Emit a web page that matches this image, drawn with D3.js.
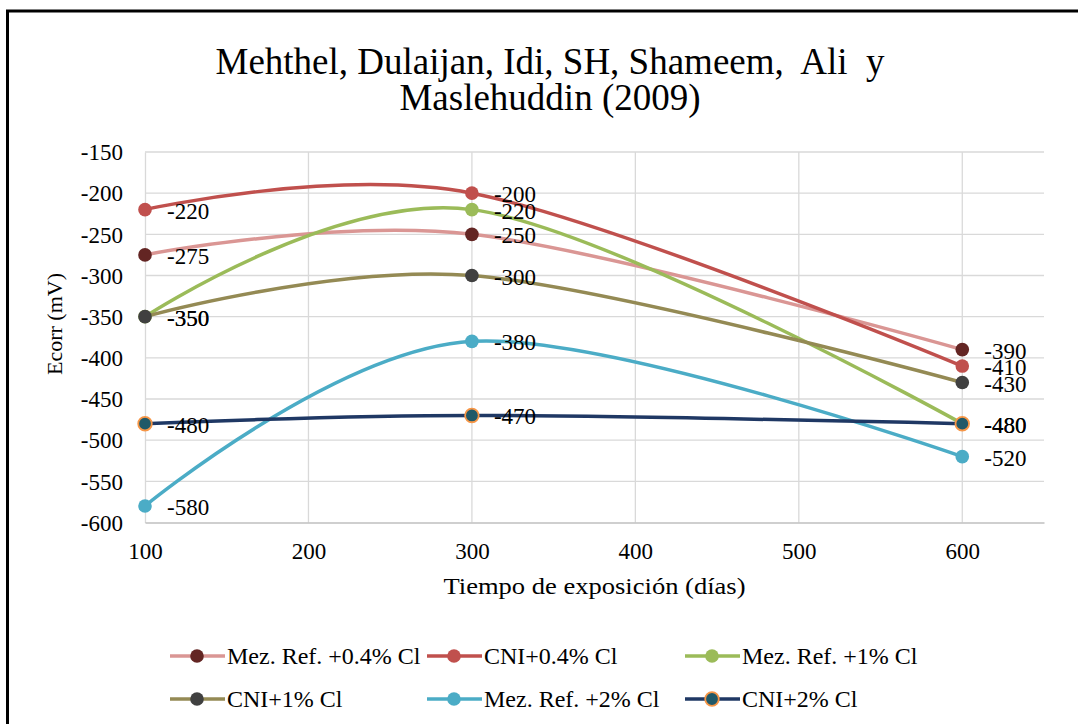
<!DOCTYPE html>
<html>
<head>
<meta charset="utf-8">
<script src="https://cdn.jsdelivr.net/npm/d3@7"></script>
<style>
  body { margin: 0; background: #fff; }
  text { font-family: "Liberation Serif", "Times New Roman", serif; fill: #000; white-space: pre; }
</style>
</head>
<body>
<div id="chart"></div>
<script>
// data
const days = [100, 300, 600];
const mezRef04 = [-275, -250, -390];
const cni04 = [-220, -200, -410];
const mezRef1 = [-350, -220, -480];
const cni1 = [-350, -300, -430];
const mezRef2 = [-580, -380, -520];
const cni2 = [-480, -470, -480];

const seriesNames = ["Mez. Ref. +0.4% Cl", "CNI+0.4% Cl", "Mez. Ref. +1% Cl",
                     "CNI+1% Cl", "Mez. Ref. +2% Cl", "CNI+2% Cl"];
const seriesValues = [mezRef04, cni04, mezRef1, cni1, mezRef2, cni2];
const lineColors = ["#DA9694", "#C0504D", "#9BBB59", "#948A54", "#4BACC6", "#1F3864"];
const markerFills = ["#632523", "#C0504D", "#9BBB59", "#404040", "#4BACC6", "#215968"];
const markerStrokes = [null, null, null, null, null, "#F79646"];

const yTicks = [-600, -550, -500, -450, -400, -350, -300, -250, -200, -150];
const xTicks = [100, 200, 300, 400, 500, 600];

const titleLines = ["Mehthel, Dulaijan, Idi, SH, Shameem,  Ali  y", "Maslehuddin (2009)"];
const xTitle = "Tiempo de exposición (días)";
const yTitle = "Ecorr (mV)";

const W = 1078, H = 724;
const plot = { left: 145, right: 1044, top: 152, bottom: 522.5 };

const svg = d3.select("#chart").append("svg")
  .attr("width", W)
  .attr("height", H);

// outer frame (only top and left edges are visible)
svg.append("rect")
  .attr("x", 7.5).attr("y", 11)
  .attr("width", W + 20).attr("height", H + 20)
  .attr("fill", "#fff")
  .attr("stroke", "#000")
  .attr("stroke-width", 3);

//scales
const x = d3.scaleLinear()
  .domain([100, 650])
  .range([plot.left, plot.right]);

const y = d3.scaleLinear()
  .domain([-600, -150])
  .range([plot.bottom, plot.top]);

//gridlines
const grid = svg.append("g");
grid.selectAll(".hgrid")
  .data(yTicks.slice(1))
  .enter().append("line")
    .attr("x1", plot.left).attr("x2", plot.right)
    .attr("y1", d => y(d)).attr("y2", d => y(d))
    .attr("stroke", "#D9D9D9").attr("stroke-width", 1.3);
grid.selectAll(".vgrid")
  .data(xTicks.slice(1))
  .enter().append("line")
    .attr("x1", d => x(d)).attr("x2", d => x(d))
    .attr("y1", plot.top).attr("y2", plot.bottom)
    .attr("stroke", "#D9D9D9").attr("stroke-width", 1.3);

//axes (hyphen minus kept as in the original, not d3's unicode minus)
const yAxis = svg.append("g")
  .attr("transform", `translate(${plot.left},0)`)
  .call(d3.axisLeft(y).tickValues(yTicks).tickSize(0).tickPadding(22).tickFormat(d => String(d)));
yAxis.select(".domain").attr("stroke", "#D9D9D9").attr("stroke-width", 1.3);
yAxis.selectAll("text")
  .attr("font-size", 23)
  .attr("font-family", null)
  .attr("dy", "0.34em");
yAxis.attr("font-family", null);

const xAxis = svg.append("g")
  .attr("transform", `translate(0,${plot.bottom})`)
  .call(d3.axisBottom(x).tickValues(xTicks).tickSize(0).tickPadding(20).tickFormat(d => String(d)));
xAxis.select(".domain").attr("stroke", "#BFBFBF").attr("stroke-width", 1.6);
xAxis.selectAll("text")
  .attr("font-size", 23)
  .attr("dy", "0.72em");
xAxis.attr("font-family", null);

//titles
svg.append("g").selectAll("text")
  .data(titleLines)
  .enter().append("text")
    .attr("x", 550)
    .attr("y", (d, i) => 74 + i * 36)
    .attr("text-anchor", "middle")
    .attr("font-size", 37)
    .text(d => d);

svg.append("text")
  .attr("x", (plot.left + plot.right) / 2)
  .attr("y", 594)
  .attr("text-anchor", "middle")
  .attr("font-size", 24)
  .attr("textLength", 302)
  .attr("lengthAdjust", "spacingAndGlyphs")
  .text(xTitle);

svg.append("text")
  .attr("transform", "translate(62,324) rotate(-90)")
  .attr("text-anchor", "middle")
  .attr("font-size", 22)
  .text(yTitle);

//smoothed lines, Excel style
const line = d3.line()
  .curve(d3.curveCardinal.tension(0))
  .x((d, i) => x(days[i]))
  .y(d => y(d));

const series = seriesValues.map((vals, i) => ({ name: seriesNames[i], vals: vals, i: i }));

svg.append("g").selectAll("path")
  .data(series)
  .enter().append("path")
    .attr("d", d => line(d.vals))
    .attr("fill", "none")
    .attr("stroke", d => lineColors[d.i])
    .attr("stroke-width", 3.5);

//markers
series.forEach(s => {
  svg.append("g").selectAll("circle")
    .data(s.vals)
    .enter().append("circle")
      .attr("cx", (d, i) => x(days[i]))
      .attr("cy", d => y(d))
      .attr("r", 6.8)
      .attr("fill", markerFills[s.i])
      .attr("stroke", markerStrokes[s.i] || "none")
      .attr("stroke-width", 1.8);
});

//data labels
series.forEach(s => {
  svg.append("g").selectAll("text")
    .data(s.vals)
    .enter().append("text")
      .attr("x", (d, i) => x(days[i]) + 22)
      .attr("y", d => y(d) + 9)
      .attr("font-size", 23)
      .text(d => String(d));
});

//legend
const legCols = [197, 454, 712];
const legRows = [656, 699];
const legend = svg.append("g").selectAll("g")
  .data(series)
  .enter().append("g")
    .attr("transform", d => `translate(${legCols[d.i % 3]},${legRows[Math.floor(d.i / 3)]})`);
legend.append("line")
  .attr("x1", -27).attr("x2", 28)
  .attr("stroke", d => lineColors[d.i])
  .attr("stroke-width", 3.5);
legend.append("circle")
  .attr("r", 6.8)
  .attr("fill", d => markerFills[d.i])
  .attr("stroke", d => markerStrokes[d.i] || "none")
  .attr("stroke-width", 1.8);
legend.append("text")
  .attr("x", 30)
  .attr("y", 8)
  .attr("font-size", 24)
  .text(d => d.name);
</script>
</body>
</html>
